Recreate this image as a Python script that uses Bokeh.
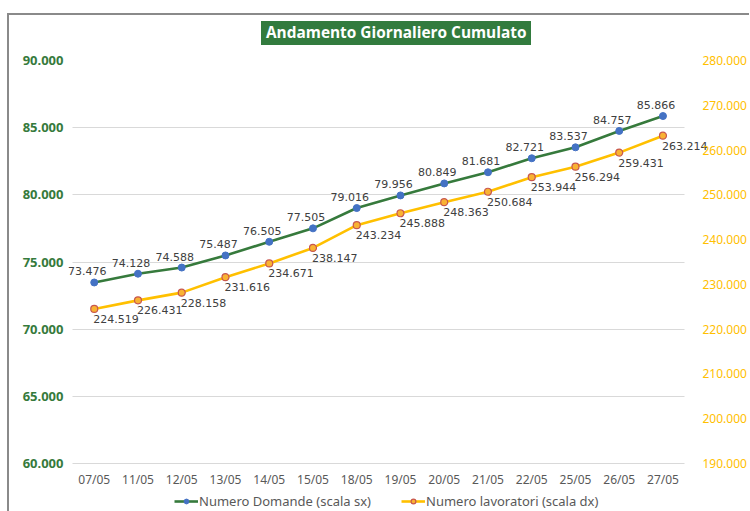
from bokeh.plotting import figure
from bokeh.models import (Range1d, LinearAxis, SingleIntervalTicker, FixedTicker, Div,
                          CustomJSTickFormatter, ColumnDataSource, Legend, LegendItem)
from bokeh.layouts import column
from bokeh.embed import file_html
from bokeh.resources import INLINE
from bokeh.core.properties import value

dates = ["07/05", "11/05", "12/05", "13/05", "14/05", "15/05", "18/05", "19/05",
         "20/05", "21/05", "22/05", "25/05", "26/05", "27/05"]
domande = [73476, 74128, 74588, 75487, 76505, 77505, 79016, 79956, 80849, 81681,
           82721, 83537, 84757, 85866]
lavoratori = [224519, 226431, 228158, 231616, 234671, 238147, 243234, 245888, 248363,
              250684, 253944, 256294, 259431, 263214]
left_range = (60000, 90000)
right_range = (190000, 280000)
title_text = "Andamento Giornaliero Cumulato"
legend_labels = ["Numero Domande (scala sx)", "Numero lavoratori (scala dx)"]


def fmt(v):
    return f"{v:,}".replace(",", ".")


idx = list(range(len(dates)))
src = ColumnDataSource(dict(
    x=idx, d=domande, l=lavoratori,
    dlab=[fmt(v) for v in domande], llab=[fmt(v) for v in lavoratori],
))

GREEN = "#367A3C"
GOLD = "#FFC000"
BLUE = "#4472C4"
MK_FILL = "#F9B233"
MK_LINE = "#C8574E"

# title strip
title_div = Div(
    text=('<div style="display:inline-block;margin:6px 0 0 252px;padding:0 5px;'
          'height:24px;line-height:24px;background:#327B3E;color:#ffffff;'
          "font-family:'Open Sans';font-weight:bold;font-size:15.4px;"
          f'white-space:nowrap">{title_text}</div>'),
    width=740, height=37, styles={"background-color": "white", "margin": "0", "padding": "0"})

# category slots span -0.5 .. n-0.5; the frame is a little wider so labels are not clipped
n = len(dates)
slot_lo, slot_hi = -0.5, n - 0.5
x_lo, x_hi = slot_lo - 0.2714, slot_hi + 0.769

p = figure(x_range=Range1d(x_lo, x_hi), y_range=Range1d(*left_range), width=740, height=438,
           output_backend="svg", toolbar_location=None,
           min_border_left=51, min_border_right=24, min_border_top=8, min_border_bottom=27)
p.outline_line_color = None
p.background_fill_color = "white"
p.border_fill_color = "white"
p.extra_y_ranges = {"right": Range1d(*right_range)}

fmt_js = CustomJSTickFormatter(code="""
return Math.round(tick).toString().replace(/\\B(?=(\\d{3})+(?!\\d))/g, ".");
""")

# left axis
ya = p.yaxis[0]
ya.ticker = SingleIntervalTicker(interval=5000)
ya.formatter = fmt_js
ya.axis_line_color = None
ya.major_tick_line_color = None
ya.minor_tick_line_color = None
ya.major_label_text_color = GREEN
ya.major_label_text_font = "Noto Sans"
ya.major_label_text_font_style = "bold"
ya.major_label_text_font_size = "13px"
ya.major_label_standoff = -9

ra = LinearAxis(y_range_name="right", ticker=SingleIntervalTicker(interval=10000),
                formatter=fmt_js)
ra.axis_line_color = None
ra.major_tick_line_color = None
ra.minor_tick_line_color = None
ra.major_label_text_color = GOLD
ra.major_label_text_font = "Noto Sans"
ra.major_label_text_font_size = "12px"
ra.major_label_standoff = -22
p.add_layout(ra, "right")

xa = p.xaxis[0]
xa.ticker = FixedTicker(ticks=idx)
xa.major_label_overrides = {i: d for i, d in zip(idx, dates)}
xa.bounds = (slot_lo, slot_hi)
xa.axis_line_color = "#d9d9d9"
xa.major_tick_line_color = None
xa.minor_tick_line_color = None
xa.major_tick_out = 0
xa.major_tick_in = 0
xa.major_label_text_color = "#595959"
xa.major_label_text_font = "Noto Sans"
xa.major_label_text_font_size = "12px"
xa.major_label_standoff = 7

p.xgrid.grid_line_color = None
p.ygrid.grid_line_color = "#d9d9d9"
p.ygrid.grid_line_width = 1
for g in p.ygrid:
    if "cross_bounds" in g.properties():
        g.cross_bounds = (slot_lo, slot_hi)

# series
p.line("x", "d", source=src, line_color=GREEN, line_width=2.6)
p.scatter("x", "d", source=src, marker="circle", size=7, fill_color=BLUE, line_color=BLUE)
p.line("x", "l", source=src, line_color=GOLD, line_width=2.6, y_range_name="right")
p.scatter("x", "l", source=src, marker="circle", size=7, y_range_name="right",
          fill_color=MK_FILL, line_color=MK_LINE, line_width=1.2)

p.text("x", "d", text="dlab", source=src, x_offset=-7, y_offset=-11,
       text_align="center", text_baseline="middle", text_font=value("DejaVu Sans"),
       text_font_size="11px", text_color="#404040")
p.text("x", "l", text="llab", source=src, x_offset=-1, y_offset=10, y_range_name="right",
       text_align="left", text_baseline="middle", text_font=value("DejaVu Sans"),
       text_font_size="11px", text_color="#404040")

# legend strip below the chart (series drawn off-view only to feed the legend swatches)
lf = figure(width=740, height=21, x_range=Range1d(0, 1), y_range=Range1d(0, 1),
            x_axis_type=None, y_axis_type=None,
            output_backend="svg", toolbar_location=None,
            min_border_left=0, min_border_right=0, min_border_top=0, min_border_bottom=0)
lf.grid.visible = False
lf.outline_line_color = None
lf.border_fill_color = "white"
l1 = lf.line("x", "d", source=src, line_color=GREEN, line_width=2.6)
m1 = lf.scatter("x", "d", source=src, marker="circle", size=6,
                fill_color=BLUE, line_color=BLUE)
l2 = lf.line("x", "l", source=src, line_color=GOLD, line_width=2.6)
m2 = lf.scatter("x", "l", source=src, marker="circle", size=6,
                fill_color=MK_FILL, line_color=MK_LINE, line_width=1.2)
legend = Legend(items=[LegendItem(label=legend_labels[0], renderers=[l1, m1]),
                       LegendItem(label=legend_labels[1], renderers=[l2, m2])],
                orientation="horizontal", location=(114, 1),
                border_line_color=None, background_fill_alpha=0,
                label_text_font="Noto Sans", label_text_font_size="13px",
                label_text_color="#595959", glyph_width=24, glyph_height=12,
                label_standoff=1, spacing=30, padding=0, margin=0, label_height=12)
lf.add_layout(legend, "center")

layout = column(title_div, p, lf, spacing=0,
                styles={"border-top": "2px solid #8a8a8a",
                        "border-left": "2px solid #8a8a8a",
                        "margin-top": "13px", "margin-left": "7px",
                        "background-color": "white"})

open("out.html", "w").write(file_html(layout, INLINE))
